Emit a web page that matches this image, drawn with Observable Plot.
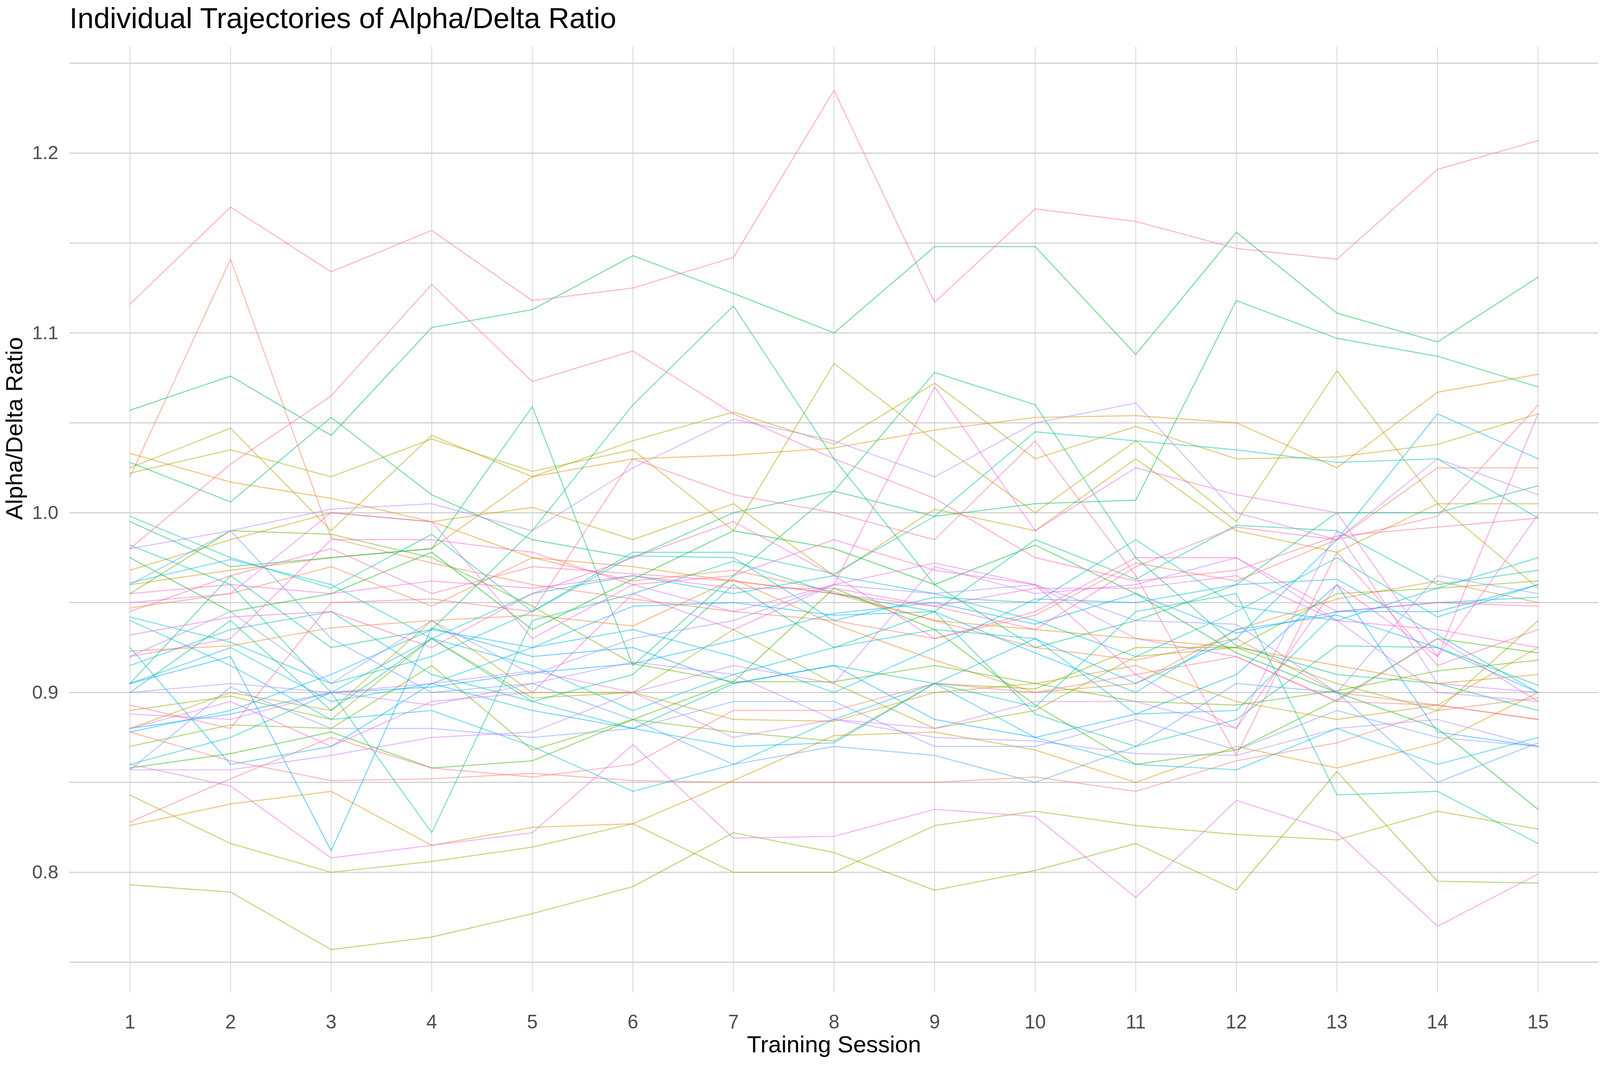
<!DOCTYPE html>
<html>
<head>
<meta charset="utf-8">
<script src="https://cdn.jsdelivr.net/npm/d3@7"></script>
<script src="https://cdn.jsdelivr.net/npm/@observablehq/plot@0.6"></script>
<style>
html, body { margin: 0; padding: 0; background: #fff; overflow: hidden; }
#wrap { position: absolute; left: 0; top: 0; font-family: "Liberation Sans", Arial, sans-serif; overflow: hidden; background: #fff; }
#title { position: absolute; line-height: 1; color: #000; white-space: nowrap; }
#chart { position: absolute; left: 0; }
</style>
</head>
<body>
<div id="wrap">
  <div id="title">Individual Trajectories of Alpha/Delta Ratio</div>
  <div id="chart"></div>
</div>
<script>
const sessions = [1, 2, 3, 4, 5, 6, 7, 8, 9, 10, 11, 12, 13, 14, 15];
const yTicks = [0.8, 0.9, 1.0, 1.1, 1.2];
const yGrid = [0.75, 0.8, 0.85, 0.9, 0.95, 1.0, 1.05, 1.1, 1.15, 1.2, 1.25];
const xLabel = "Training Session";
const yLabel = "Alpha/Delta Ratio";

const subjects = d3.range(1, 54).map(i => "S" + String(i).padStart(2, "0"));

// Alpha/Delta ratio per subject (rows) and session (columns)
const ratio = [
  [0.878,0.862,0.851,0.852,0.855,0.851,0.850,0.850,0.850,0.853,0.845,0.862,0.872,0.890,0.897],
  [1.020,1.141,0.986,0.972,0.960,0.952,0.945,0.940,0.930,0.943,0.972,0.962,0.985,1.025,1.025],
  [0.947,0.955,0.970,0.948,0.975,0.962,0.968,0.956,0.940,0.925,0.918,0.930,0.900,0.893,0.885],
  [0.923,0.926,0.936,0.940,0.943,0.937,0.963,0.938,0.918,0.900,0.905,0.935,0.952,0.962,0.950],
  [1.033,1.017,1.008,0.995,0.975,0.970,0.962,0.955,0.940,0.935,0.930,0.925,0.915,0.905,0.910],
  [0.960,0.968,0.975,0.980,1.020,1.030,1.032,1.036,1.046,1.053,1.054,1.050,1.025,1.067,1.077],
  [0.826,0.838,0.845,0.815,0.825,0.827,0.851,0.876,0.878,0.868,0.850,0.870,0.858,0.872,0.900],
  [0.880,0.900,0.890,0.940,0.900,0.900,0.885,0.884,0.900,0.905,0.915,0.895,0.885,0.893,0.925],
  [0.968,0.985,1.000,0.995,1.003,0.985,1.005,0.965,1.002,0.990,1.030,0.990,0.978,1.005,1.005],
  [1.025,1.047,0.990,1.043,1.020,1.040,1.056,1.038,1.072,1.030,1.048,1.030,1.031,1.038,1.055],
  [1.022,1.035,1.020,1.041,1.023,1.035,0.990,1.083,1.040,1.000,1.040,0.995,1.079,1.005,0.958],
  [0.843,0.816,0.800,0.806,0.814,0.827,0.800,0.800,0.826,0.834,0.826,0.821,0.818,0.834,0.824],
  [0.890,0.898,0.885,0.930,0.897,0.900,0.935,0.905,0.880,0.890,0.920,0.925,0.905,0.890,0.940],
  [0.793,0.789,0.757,0.764,0.777,0.792,0.822,0.811,0.790,0.801,0.816,0.790,0.856,0.795,0.794],
  [0.870,0.882,0.880,0.915,0.868,0.885,0.878,0.873,0.905,0.902,0.925,0.925,0.955,0.958,0.962],
  [0.955,0.990,0.988,0.975,0.948,0.916,0.906,0.906,0.915,0.905,0.895,0.893,0.901,0.912,0.918],
  [0.858,0.866,0.878,0.858,0.862,0.885,0.906,0.958,0.935,0.893,0.860,0.868,0.896,0.930,0.922],
  [0.975,0.945,0.955,0.978,0.935,0.963,0.990,0.980,0.960,0.982,0.955,0.922,0.900,0.880,0.835],
  [1.057,1.076,1.043,1.103,1.113,1.143,1.122,1.100,1.148,1.148,1.088,1.156,1.111,1.095,1.131],
  [1.028,1.006,1.053,1.010,0.985,0.975,1.000,1.012,0.998,1.005,1.007,1.118,1.097,1.087,1.070],
  [0.995,0.970,0.975,0.980,1.059,0.915,0.965,1.012,1.078,1.060,0.975,0.926,0.910,0.905,0.890],
  [0.905,0.965,0.925,0.935,0.990,1.060,1.115,1.030,0.960,0.925,0.940,0.960,1.000,1.000,1.015],
  [0.900,0.940,0.890,0.930,0.895,0.910,0.960,0.925,0.945,0.985,0.963,0.993,0.990,0.960,0.968],
  [0.982,0.960,0.900,0.822,0.940,0.955,0.973,0.955,0.945,0.888,0.870,0.885,0.926,0.925,0.904],
  [0.998,0.975,0.958,0.988,0.945,0.978,0.978,0.966,0.998,1.045,1.040,1.035,1.028,1.030,0.997],
  [0.915,0.935,0.945,0.910,0.895,0.880,0.905,0.915,0.905,0.892,0.945,0.955,0.843,0.845,0.816],
  [0.860,0.875,0.900,0.930,0.955,0.965,0.955,0.965,0.955,0.940,0.920,0.945,0.975,0.942,0.960],
  [0.942,0.928,0.905,0.920,0.945,0.976,0.975,0.940,0.953,0.950,0.985,0.948,0.940,0.958,0.975],
  [0.961,0.974,0.960,0.930,0.915,0.890,0.910,0.925,0.935,0.930,0.888,0.890,0.945,0.950,0.953],
  [0.905,0.925,0.895,0.905,0.925,0.935,0.920,0.900,0.925,0.952,0.950,0.960,0.963,0.932,0.900],
  [0.940,0.915,0.885,0.890,0.870,0.845,0.860,0.885,0.905,0.875,0.860,0.857,0.880,0.860,0.875],
  [0.878,0.890,0.910,0.935,0.925,0.948,0.950,0.943,0.945,0.922,0.900,0.935,0.943,0.925,0.900],
  [0.925,0.860,0.870,0.905,0.890,0.880,0.870,0.872,0.905,0.930,0.905,0.930,0.985,1.055,1.030],
  [0.880,0.888,0.900,0.903,0.911,0.916,0.929,0.944,0.950,0.938,0.955,0.933,0.945,0.945,0.960],
  [0.905,0.920,0.812,0.936,0.920,0.925,0.905,0.915,0.885,0.875,0.888,0.910,0.960,0.878,0.870],
  [0.960,0.990,0.930,0.900,0.905,0.885,0.860,0.870,0.865,0.850,0.870,0.905,0.900,0.850,0.872],
  [0.857,0.903,0.880,0.880,0.875,0.880,0.895,0.895,0.870,0.870,0.885,0.868,0.890,0.875,0.870],
  [0.920,0.945,0.905,0.940,0.910,0.930,0.940,0.960,0.955,0.960,0.940,0.938,0.900,0.965,0.955],
  [0.900,0.905,0.900,0.893,0.905,0.917,0.910,0.885,0.875,0.873,0.866,0.865,0.880,0.885,0.870],
  [0.980,0.990,1.002,1.005,0.990,1.025,1.052,1.040,1.020,1.050,1.061,1.000,0.985,1.030,1.010],
  [0.857,0.857,0.865,0.875,0.878,0.900,0.915,0.905,0.970,0.955,0.960,0.975,0.940,0.900,0.895],
  [0.888,0.885,0.900,0.905,0.912,0.900,0.875,0.885,0.880,0.895,0.895,0.880,0.990,0.905,0.900],
  [0.950,0.955,1.000,0.995,0.930,0.960,0.945,0.960,0.972,0.960,0.930,0.920,0.895,0.930,0.895],
  [0.860,0.848,0.808,0.815,0.822,0.871,0.819,0.820,0.835,0.831,0.786,0.840,0.822,0.770,0.799],
  [0.880,0.895,0.870,0.895,0.900,0.955,0.935,0.960,1.070,0.990,1.025,1.010,1.000,0.920,0.999],
  [0.955,0.960,0.955,0.962,0.958,0.965,0.958,0.958,0.948,0.958,0.958,0.965,0.940,0.935,0.925],
  [0.920,0.930,0.985,0.985,0.978,0.960,0.965,0.985,0.968,0.960,0.910,0.880,0.960,0.920,1.055],
  [0.932,0.942,0.945,0.925,0.955,0.975,0.995,0.965,0.930,0.945,0.975,0.975,0.945,0.950,0.948],
  [1.116,1.170,1.134,1.157,1.118,1.125,1.142,1.235,1.117,1.169,1.162,1.147,1.141,1.191,1.207],
  [0.980,1.027,1.065,1.127,1.073,1.090,1.055,1.030,1.008,0.975,0.962,0.968,0.987,0.992,0.997],
  [0.945,0.965,0.980,0.955,0.970,0.966,0.962,0.955,0.948,0.935,0.970,0.992,0.985,0.998,1.060],
  [0.893,0.880,0.950,0.952,0.945,1.030,1.010,1.000,0.985,1.040,0.965,0.865,0.978,0.915,0.935],
  [0.828,0.852,0.875,0.858,0.853,0.860,0.890,0.890,0.905,0.900,0.910,0.920,0.895,0.893,0.885]
];

// ggplot2-style hue palette (polar LUV, l = 65, c = 100)
function hclLuv(h, c, l) {
  const Xn = 95.047, Yn = 100, Zn = 108.883;
  const den = Xn + 15 * Yn + 3 * Zn;
  const un = 4 * Xn / den, vn = 9 * Yn / den;
  const hr = h * Math.PI / 180;
  const u = c * Math.cos(hr), v = c * Math.sin(hr);
  const Y = l > 8 ? Yn * Math.pow((l + 16) / 116, 3) : Yn * l / 903.3;
  const up = u / (13 * l) + un, vp = v / (13 * l) + vn;
  const X = Y * 9 * up / (4 * vp);
  const Z = Y * (12 - 3 * up - 20 * vp) / (4 * vp);
  const x = X / 100, y = Y / 100, z = Z / 100;
  const r = 3.2404542 * x - 1.5371385 * y - 0.4985314 * z;
  const g = -0.9692660 * x + 1.8760108 * y + 0.0415560 * z;
  const b = 0.0556434 * x - 0.2040259 * y + 1.0572252 * z;
  const gam = t => { t = Math.max(0, Math.min(1, t)); return t <= 0.0031308 ? 12.92 * t : 1.055 * Math.pow(t, 1 / 2.4) - 0.055; };
  return d3.rgb(255 * gam(r), 255 * gam(g), 255 * gam(b)).formatHex();
}
const n = subjects.length;
const palette = subjects.map((s, i) => hclLuv(15 + 360 * i / n, 100, 65));

const data = subjects.flatMap((s, i) => sessions.map((t, j) => ({subject: s, session: t, ratio: ratio[i][j]})));

const font = "Liberation Sans, Arial, sans-serif";

// design is 4562 x 2728; fit it to the actual viewport
const vw = document.documentElement.clientWidth || window.innerWidth;
const vh = document.documentElement.clientHeight || window.innerHeight;
const sx = vw / 4562, sy = vh / 2728;
const sf = Math.min(sx, sy);

const wrap = document.getElementById("wrap");
wrap.style.width = vw + "px";
wrap.style.height = vh + "px";
const title = document.getElementById("title");
const titleSize = 83 * sf;
title.style.left = (198 * sx) + "px";
title.style.top = (73 * sy - 0.8465 * titleSize) + "px";
title.style.fontSize = titleSize + "px";
const chartDiv = document.getElementById("chart");
chartDiv.style.top = (120 * sy) + "px";

const chart = Plot.plot({
  width: vw,
  height: vh - 120 * sy,
  marginTop: 0,
  marginBottom: 188 * sy,
  marginLeft: 198 * sx,
  marginRight: 5 * sx,
  style: {fontFamily: font, background: "#fff", overflow: "visible"},
  x: {domain: [0.4, 15.6]},
  y: {domain: [0.733, 1.259]},
  color: {domain: subjects, range: palette},
  marks: [
    Plot.ruleY(yGrid, {stroke: "#cccccc", strokeWidth: 3 * sf}),
    Plot.ruleX(sessions, {stroke: "#d0d0d0", strokeWidth: 2 * sf}),
    Plot.line(data, {x: "session", y: "ratio", z: "subject", stroke: "subject", strokeWidth: 3 * sf, strokeOpacity: 0.5}),
    Plot.axisX({ticks: sessions, tickFormat: d => String(d), tickSize: 0, tickPadding: 56 * sy, fontSize: 55 * sf, fill: "#4d4d4d", label: null}),
    Plot.axisY({ticks: yTicks, tickFormat: d3.format(".1f"), tickSize: 0, tickPadding: 32 * sx, fontSize: 54 * sf, fill: "#4d4d4d", label: null}),
    Plot.text([xLabel], {text: d => d, frameAnchor: "bottom", lineAnchor: "top", dy: 110 * sy, fontSize: 67 * sf, fill: "#000"}),
    Plot.text([yLabel], {text: d => d, frameAnchor: "left", lineAnchor: "top", rotate: -90, dx: -183 * sx, fontSize: 67 * sf, fill: "#000"})
  ]
});
chartDiv.appendChild(chart);
</script>
</body>
</html>
